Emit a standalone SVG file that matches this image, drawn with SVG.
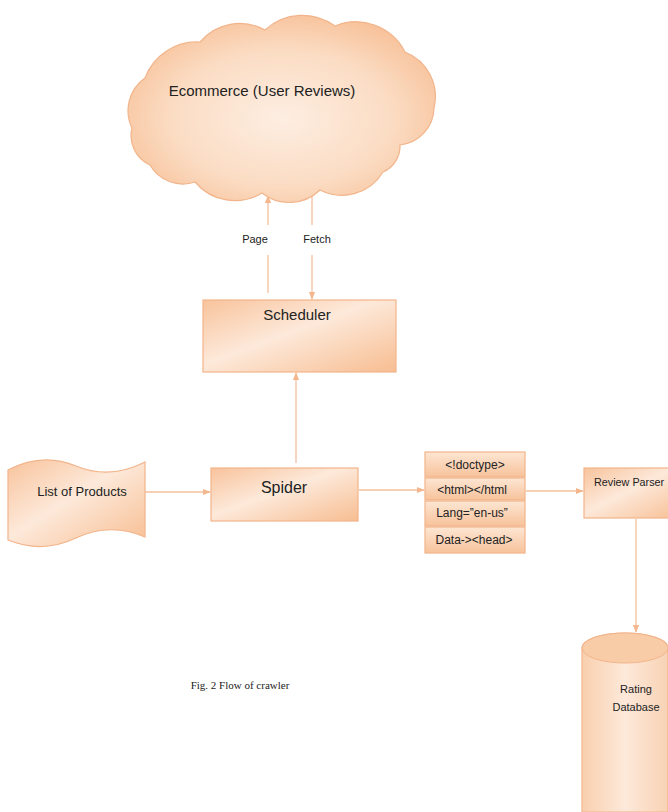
<svg xmlns="http://www.w3.org/2000/svg" width="668" height="812" viewBox="0 0 668 812">
<style>
.lbl{font-family:"Liberation Sans",Arial,sans-serif;fill:#222}
.shape{stroke:#f2b48a;stroke-width:1.2}
.conn{stroke:#f5bf9b;stroke-width:1.3;fill:none}
</style>
<defs>
<radialGradient id="gCloud" cx="0.5" cy="0.55" r="0.6">
<stop offset="0" stop-color="#fdeee2"/>
<stop offset="0.6" stop-color="#fbdcc3"/>
<stop offset="1" stop-color="#f7bf96"/>
</radialGradient>
<linearGradient id="gBox" x1="0" y1="0" x2="1" y2="1">
<stop offset="0" stop-color="#f8c39c"/>
<stop offset="0.45" stop-color="#fde9da"/>
<stop offset="1" stop-color="#f7bd91"/>
</linearGradient>
<linearGradient id="gRow" x1="0" y1="0" x2="0" y2="1">
<stop offset="0" stop-color="#fde6d3"/>
<stop offset="1" stop-color="#f7c29b"/>
</linearGradient>
<linearGradient id="gCyl" x1="0" y1="0" x2="1" y2="0">
<stop offset="0" stop-color="#f9cfae"/>
<stop offset="0.5" stop-color="#fde9da"/>
<stop offset="1" stop-color="#f8d2b4"/>
</linearGradient>
<marker id="arr" viewBox="0 0 10 10" refX="9" refY="5" markerWidth="6" markerHeight="6" orient="auto">
<path d="M0,1 L10,5 L0,9 z" fill="#f3b68d"/>
</marker>
</defs>

<g id="connectors">
<line class="conn" x1="268" y1="293" x2="268" y2="255"/>
<line class="conn" x1="268" y1="225" x2="268" y2="196" marker-end="url(#arr)"/>
<line class="conn" x1="312" y1="192" x2="312" y2="225"/>
<line class="conn" x1="312" y1="255" x2="312" y2="299" marker-end="url(#arr)"/>
<line class="conn" x1="296" y1="463" x2="296" y2="373" marker-end="url(#arr)"/>
<line class="conn" x1="145" y1="492" x2="210" y2="492" marker-end="url(#arr)"/>
<line class="conn" x1="359" y1="490" x2="424" y2="490" marker-end="url(#arr)"/>
<line class="conn" x1="526" y1="491" x2="583" y2="491" marker-end="url(#arr)"/>
<line class="conn" x1="636" y1="519" x2="636" y2="632" marker-end="url(#arr)"/>
<text class="lbl" x="255" y="243" font-size="11" text-anchor="middle">Page</text>
<text class="lbl" x="317" y="243" font-size="11" text-anchor="middle">Fetch</text>
</g>

<g id="cloud">
<path class="shape" fill="url(#gCloud)" d="M132,128 A40,40 0 0 1 145,78 A55,55 0 0 1 200,42 A52,52 0 0 1 265,30 A55,55 0 0 1 335,26 A55,55 0 0 1 405,52 A48,48 0 0 1 434,108 A38,38 0 0 1 400,145 A28,28 0 0 1 383,172 A48,48 0 0 1 320,190 A44,44 0 0 1 262,193 A52,52 0 0 1 195,182 A38,38 0 0 1 150,165 A32,32 0 0 1 132,128 Z"/>
<text class="lbl" x="262" y="96" font-size="15" text-anchor="middle">Ecommerce (User Reviews)</text>
</g>

<g id="scheduler">
<rect class="shape" x="203" y="300" width="193" height="72" fill="url(#gBox)"/>
<text class="lbl" x="297" y="320" font-size="15" text-anchor="middle">Scheduler</text>
</g>

<g id="list">
<path class="shape" fill="url(#gBox)" d="M8,470 Q42,452 76,466 T145,462 L145,537 Q110,522 76,538 T8,540 Z"/>
<text class="lbl" x="82" y="496" font-size="13" text-anchor="middle">List of Products</text>
</g>

<g id="spider">
<rect class="shape" x="211" y="468" width="147" height="53" fill="url(#gBox)"/>
<text class="lbl" x="284" y="493" font-size="16" text-anchor="middle">Spider</text>
</g>

<g id="html">
<rect class="shape" x="425" y="452" width="100" height="25" fill="url(#gRow)"/>
<rect class="shape" x="425" y="478" width="100" height="22" fill="url(#gRow)"/>
<rect class="shape" x="425" y="501" width="100" height="25" fill="url(#gRow)"/>
<rect class="shape" x="425" y="527" width="100" height="26" fill="url(#gRow)"/>
<text class="lbl" x="475" y="469" font-size="12" text-anchor="middle">&lt;!doctype&gt;</text>
<text class="lbl" x="472" y="494" font-size="12" text-anchor="middle">&lt;html&gt;&lt;/html</text>
<text class="lbl" x="472" y="517" font-size="12" text-anchor="middle">Lang=”en-us”</text>
<text class="lbl" x="474" y="544" font-size="12" text-anchor="middle">Data-&gt;&lt;head&gt;</text>
</g>

<g id="parser">
<rect class="shape" x="584" y="468" width="100" height="50" fill="url(#gBox)"/>
<text class="lbl" x="594" y="486" font-size="10.8">Review Parser</text>
</g>

<g id="database">
<path class="shape" fill="url(#gCyl)" d="M582,648 A43,15 0 0 1 668,648 L668,812 L582,812 Z"/>
<ellipse cx="625" cy="648" rx="43" ry="15" fill="#f9cca8" stroke="#f2b48a" stroke-width="1"/>
<text class="lbl" x="636" y="693" font-size="11" text-anchor="middle">Rating</text>
<text class="lbl" x="636" y="711" font-size="11" text-anchor="middle">Database</text>
</g>

<text x="240" y="689" font-family="Liberation Serif,Times New Roman,serif" font-size="11" fill="#222" text-anchor="middle">Fig. 2 Flow of crawler</text>
</svg>
